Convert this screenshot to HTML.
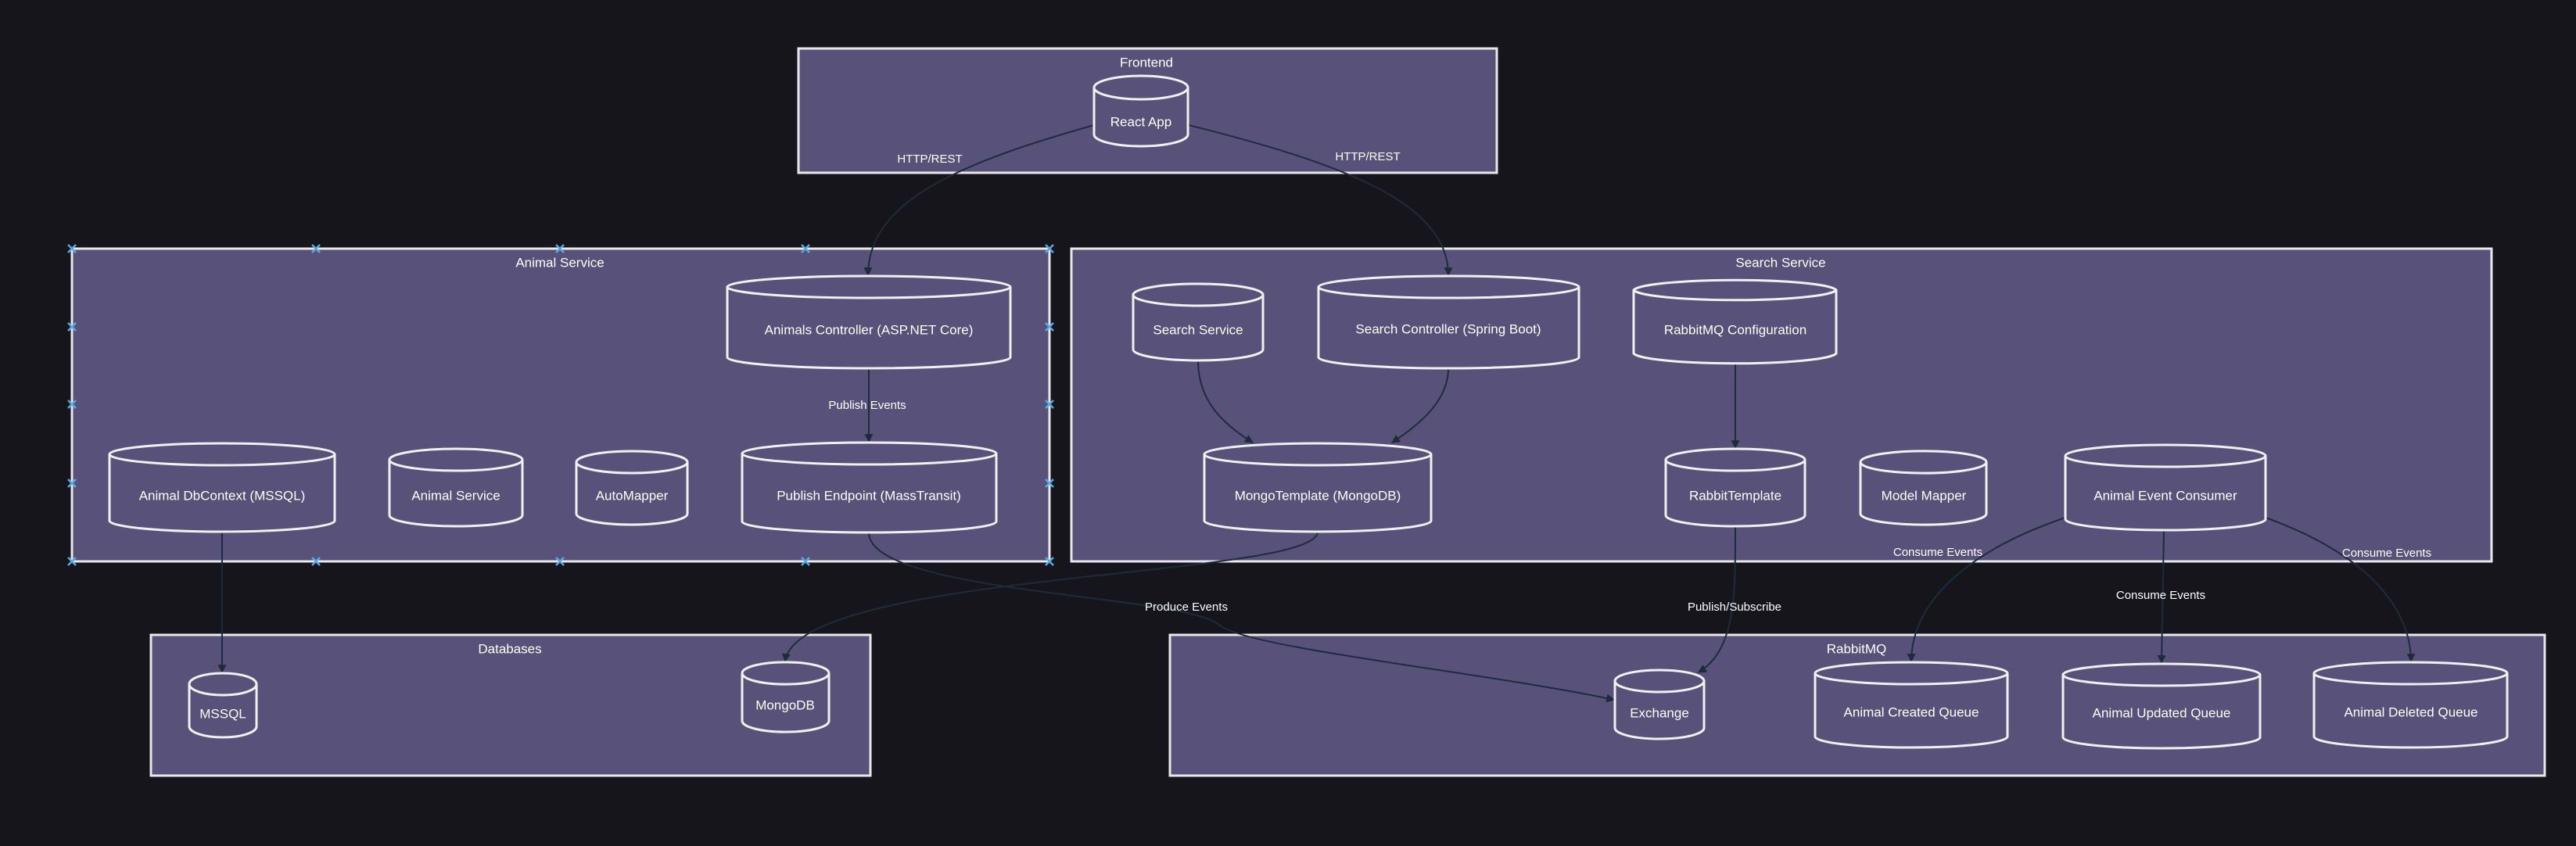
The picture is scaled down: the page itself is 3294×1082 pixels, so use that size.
<!DOCTYPE html>
<html><head><meta charset="utf-8"><style>
html,body{margin:0;padding:0;background:#17151c;}
svg{display:block;}
text{font-family:"Liberation Sans",sans-serif;fill:#fff;text-anchor:middle;dominant-baseline:middle;}
.box{fill:#58527a;stroke:#e8e8e8;stroke-width:3;}
.cyl{fill:#58527a;stroke:#f0f0f0;stroke-width:3;}
.e{fill:none;stroke:#1e2b3c;stroke-width:2;}
.n{font-size:17px;}
.t{font-size:17px;}
.l{font-size:15px;}
.m{stroke:#5aa9e6;stroke-width:2.5;}
</style></head><body>
<svg width="3294" height="1082" viewBox="0 0 3294 1082" xmlns="http://www.w3.org/2000/svg">
<defs>
<marker id="a" viewBox="0 0 10 10" refX="9" refY="5" markerWidth="11" markerHeight="11" orient="auto-start-reverse" markerUnits="userSpaceOnUse"><path d="M0,0 L10,5 L0,10 z" fill="#1e2b3c"/></marker>
<g id="x"><line x1="-5" y1="-5" x2="5" y2="5"/><line x1="-5" y1="5" x2="5" y2="-5"/></g>
</defs>
<rect class="box" x="1021" y="62" width="893" height="159"/>
<rect class="box" x="92" y="318" width="1250" height="400"/>
<rect class="box" x="1370" y="318" width="1816" height="400"/>
<rect class="box" x="193" y="812" width="920" height="180"/>
<rect class="box" x="1496" y="812" width="1758" height="180"/>
<text class="t" x="1466" y="81">Frontend</text>
<text class="t" x="716" y="337">Animal Service</text>
<text class="t" x="2277" y="337">Search Service</text>
<text class="t" x="652" y="831">Databases</text>
<text class="t" x="2374" y="831">RabbitMQ</text>

<g class="m">
<use href="#x" x="92" y="318"/><use href="#x" x="404" y="318"/><use href="#x" x="716" y="318"/><use href="#x" x="1030" y="318"/><use href="#x" x="1342" y="318"/>
<use href="#x" x="92" y="718"/><use href="#x" x="404" y="718"/><use href="#x" x="716" y="718"/><use href="#x" x="1030" y="718"/><use href="#x" x="1342" y="718"/>
<use href="#x" x="92" y="418"/><use href="#x" x="92" y="517"/><use href="#x" x="92" y="618"/>
<use href="#x" x="1342" y="418"/><use href="#x" x="1342" y="517"/><use href="#x" x="1342" y="618"/>
</g>

<path class="e" marker-end="url(#a)" d="M1399,160 C1220,210 1110,260 1110,352"/>
<path class="e" marker-end="url(#a)" d="M1520,160 C1720,210 1852,260 1852,352"/>
<path class="e" marker-end="url(#a)" d="M1111,471 L1111,565"/>
<path class="e" marker-end="url(#a)" d="M284,680 L284,860"/>
<path class="e" marker-end="url(#a)" d="M1685,680 C1685,740 1020,730 1004,846"/>
<path class="e" marker-end="url(#a)" d="M1111,681 C1111,760 1520,760 1560,800 C1600,830 1900,860 2064,895"/>
<path class="e" marker-end="url(#a)" d="M1532,461 C1532,510 1560,540 1602,566"/>
<path class="e" marker-end="url(#a)" d="M1852,471 C1852,510 1820,540 1780,566"/>
<path class="e" marker-end="url(#a)" d="M2219,466 L2219,573"/>
<path class="e" marker-end="url(#a)" d="M2219,673 C2219,760 2220,830 2172,860"/>
<path class="e" marker-end="url(#a)" d="M2641,662 C2500,710 2444,780 2444,846"/>
<path class="e" marker-end="url(#a)" d="M2767,678 L2764,848"/>
<path class="e" marker-end="url(#a)" d="M2897,662 C3030,710 3083,780 3083,846"/>

<text class="l" x="1189" y="204">HTTP/REST</text>
<text class="l" x="1749" y="201">HTTP/REST</text>
<text class="l" x="1109" y="519">Publish Events</text>
<text class="l" x="1517" y="777">Produce Events</text>
<text class="l" x="2218" y="777">Publish/Subscribe</text>
<text class="l" x="2478" y="707">Consume Events</text>
<text class="l" x="2763" y="762">Consume Events</text>
<text class="l" x="3052" y="708">Consume Events</text>

<path class="cyl" d="M1399,112 A60,15 0 0 1 1519,112 L1519,172 A60,15 0 0 1 1399,172 Z M1399,112 A60,15 0 0 0 1519,112"/>
<text class="n" x="1459" y="157">React App</text>
<path class="cyl" d="M930,367 A181,14 0 0 1 1292,367 L1292,457 A181,14 0 0 1 930,457 Z M930,367 A181,14 0 0 0 1292,367"/>
<text class="n" x="1111" y="423">Animals Controller (ASP.NET Core)</text>
<path class="cyl" d="M949,580 A162,14 0 0 1 1274,580 L1274,667 A162,14 0 0 1 949,667 Z M949,580 A162,14 0 0 0 1274,580"/>
<text class="n" x="1111" y="635">Publish Endpoint (MassTransit)</text>
<path class="cyl" d="M140,581 A144,14 0 0 1 428,581 L428,666 A144,14 0 0 1 140,666 Z M140,581 A144,14 0 0 0 428,581"/>
<text class="n" x="284" y="635">Animal DbContext (MSSQL)</text>
<path class="cyl" d="M498,588 A85,14 0 0 1 668,588 L668,659 A85,14 0 0 1 498,659 Z M498,588 A85,14 0 0 0 668,588"/>
<text class="n" x="583" y="635">Animal Service</text>
<path class="cyl" d="M737,591 A71,14 0 0 1 879,591 L879,657 A71,14 0 0 1 737,657 Z M737,591 A71,14 0 0 0 879,591"/>
<text class="n" x="808" y="635">AutoMapper</text>
<path class="cyl" d="M242,875 A43,14 0 0 1 328,875 L328,929 A43,14 0 0 1 242,929 Z M242,875 A43,14 0 0 0 328,875"/>
<text class="n" x="285" y="914">MSSQL</text>
<path class="cyl" d="M949,861 A55,14 0 0 1 1060,861 L1060,922 A55,14 0 0 1 949,922 Z M949,861 A55,14 0 0 0 1060,861"/>
<text class="n" x="1004" y="903">MongoDB</text>
<path class="cyl" d="M1449,377 A83,14 0 0 1 1615,377 L1615,447 A83,14 0 0 1 1449,447 Z M1449,377 A83,14 0 0 0 1615,377"/>
<text class="n" x="1532" y="423">Search Service</text>
<path class="cyl" d="M1686,367 A166,14 0 0 1 2019,367 L2019,457 A166,14 0 0 1 1686,457 Z M1686,367 A166,14 0 0 0 2019,367"/>
<text class="n" x="1852" y="422">Search Controller (Spring Boot)</text>
<path class="cyl" d="M2089,371 A130,14 0 0 1 2348,371 L2348,452 A130,14 0 0 1 2089,452 Z M2089,371 A130,14 0 0 0 2348,371"/>
<text class="n" x="2219" y="423">RabbitMQ Configuration</text>
<path class="cyl" d="M1540,581 A145,14 0 0 1 1830,581 L1830,666 A145,14 0 0 1 1540,666 Z M1540,581 A145,14 0 0 0 1830,581"/>
<text class="n" x="1685" y="635">MongoTemplate (MongoDB)</text>
<path class="cyl" d="M2130,588 A89,14 0 0 1 2308,588 L2308,659 A89,14 0 0 1 2130,659 Z M2130,588 A89,14 0 0 0 2308,588"/>
<text class="n" x="2219" y="635">RabbitTemplate</text>
<path class="cyl" d="M2379,591 A80,14 0 0 1 2540,591 L2540,657 A80,14 0 0 1 2379,657 Z M2379,591 A80,14 0 0 0 2540,591"/>
<text class="n" x="2460" y="635">Model Mapper</text>
<path class="cyl" d="M2641,583 A128,14 0 0 1 2897,583 L2897,664 A128,14 0 0 1 2641,664 Z M2641,583 A128,14 0 0 0 2897,583"/>
<text class="n" x="2769" y="635">Animal Event Consumer</text>
<path class="cyl" d="M2065,871 A57,14 0 0 1 2179,871 L2179,931 A57,14 0 0 1 2065,931 Z M2065,871 A57,14 0 0 0 2179,871"/>
<text class="n" x="2122" y="913">Exchange</text>
<path class="cyl" d="M2321,861 A123,14 0 0 1 2567,861 L2567,942 A123,14 0 0 1 2321,942 Z M2321,861 A123,14 0 0 0 2567,861"/>
<text class="n" x="2444" y="912">Animal Created Queue</text>
<path class="cyl" d="M2638,863 A126,14 0 0 1 2890,863 L2890,943 A126,14 0 0 1 2638,943 Z M2638,863 A126,14 0 0 0 2890,863"/>
<text class="n" x="2764" y="913">Animal Updated Queue</text>
<path class="cyl" d="M2959,861 A123,14 0 0 1 3206,861 L3206,942 A123,14 0 0 1 2959,942 Z M2959,861 A123,14 0 0 0 3206,861"/>
<text class="n" x="3083" y="912">Animal Deleted Queue</text>
</svg>
</body></html>
